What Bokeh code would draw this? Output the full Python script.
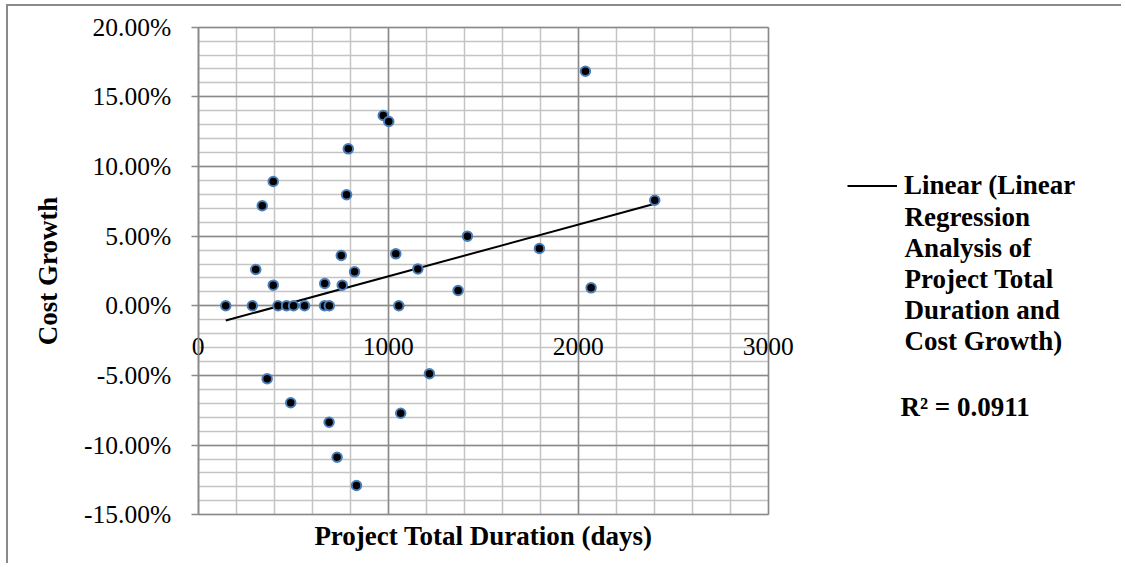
from bokeh.plotting import figure
from bokeh.models import (Range1d, NumeralTickFormatter, LinearAxis, FixedTicker,
                          Legend, LegendItem, Label, Grid)
from bokeh.embed import file_html
from bokeh.resources import INLINE

# ---- data ----
duration_days = [145, 285, 420, 465, 502, 560, 665, 690, 1056,
                 303, 337, 395, 395, 363, 487, 666, 689, 731,
                 753, 758, 781, 790, 823, 833, 974, 1003, 1040,
                 1066, 1156, 1217, 1368, 1417, 1796, 2038, 2068, 2403]
cost_growth = [0.0, 0.0, 0.0, 0.0, 0.0, 0.0, 0.0, 0.0, 0.0,
               0.0261, 0.0718, 0.0892, 0.0148, -0.0524, -0.0696, 0.0160, -0.0836, -0.1087,
               0.0361, 0.0148, 0.0797, 0.1127, 0.0244, -0.1290, 0.1366, 0.1323, 0.0373,
               -0.0771, 0.0265, -0.0488, 0.0110, 0.0500, 0.0411, 0.1684, 0.0129, 0.0758]
trend_x = [145, 2403]
trend_y = [-0.0106, 0.0732]
x_major_ticks = [0, 1000, 2000, 3000]
x_minor_ticks = [200 * i for i in range(16)]
y_major_ticks = [-0.15, -0.10, -0.05, 0.0, 0.05, 0.10, 0.15, 0.20]
y_minor_ticks = [round(-0.15 + 0.01 * i, 2) for i in range(36)]
legend_first = "Linear (Linear"
legend_rest = "Regression\nAnalysis of\nProject Total\nDuration and\nCost Growth)"
r2_text = "R\u00b2 = 0.0911"
x_title = "Project Total Duration (days)"
y_title = "Cost Growth"

FONT = "Liberation Serif"
MAJOR = "#8a8a8a"
MINOR = "#c4c4c4"
X_BOUNDS = (0, 3000)
Y_BOUNDS = (-0.15, 0.20)

# frame covers the whole canvas; plot area is bounded by grids/axes
p = figure(width=1115, height=559, output_backend="svg", toolbar_location=None,
           x_axis_type=None, y_axis_type=None,
           x_range=Range1d(-998.4, 4870.0), y_range=Range1d(-0.18643, 0.21486),
           min_border_left=0, min_border_right=0, min_border_top=0, min_border_bottom=0)
p.margin = (4, 0, 0, 6)
p.styles = {"border-top": "2px solid #8a8a8a", "border-left": "2px solid #8a8a8a"}
p.outline_line_color = None

# grids: minor first, then major on top
for dim, ticks, bnds, cb in ((0, x_minor_ticks, X_BOUNDS, Y_BOUNDS),
                             (1, y_minor_ticks, Y_BOUNDS, X_BOUNDS)):
    p.add_layout(Grid(dimension=dim, ticker=FixedTicker(ticks=ticks), bounds=bnds,
                      cross_bounds=cb, grid_line_color=MINOR, grid_line_width=1.5))
for dim, ticks, bnds, cb in ((0, x_major_ticks, X_BOUNDS, Y_BOUNDS),
                             (1, y_major_ticks, Y_BOUNDS, X_BOUNDS)):
    p.add_layout(Grid(dimension=dim, ticker=FixedTicker(ticks=ticks), bounds=bnds,
                      cross_bounds=cb, grid_line_color=MAJOR, grid_line_width=1.5))

# y axis at x = 0
yax = LinearAxis(fixed_location=0, bounds=Y_BOUNDS,
                 ticker=FixedTicker(ticks=y_major_ticks),
                 formatter=NumeralTickFormatter(format="0.00%"),
                 axis_line_color=MAJOR, axis_line_width=1.5,
                 major_tick_line_color=MAJOR, major_tick_line_width=1.5,
                 major_tick_out=7, major_tick_in=0, minor_tick_line_color=None,
                 major_label_standoff=20, major_label_text_font=FONT,
                 major_label_text_font_size="25.5px", major_label_text_color="black",
                 axis_label=y_title, axis_label_text_font=FONT,
                 axis_label_text_font_style="bold", axis_label_text_font_size="27px",
                 axis_label_text_color="black", axis_label_standoff=18)
p.add_layout(yax, "left")

# x axis labels along y = 0
xax = LinearAxis(fixed_location=0, bounds=X_BOUNDS,
                 ticker=FixedTicker(ticks=x_major_ticks),
                 axis_line_color=None, major_tick_line_color=None, minor_tick_line_color=None,
                 major_label_standoff=26, major_label_text_font=FONT,
                 major_label_text_font_size="25.5px", major_label_text_color="black")
p.add_layout(xax, "below")

# x title under the plot area
tax = LinearAxis(fixed_location=-0.15, bounds=X_BOUNDS, ticker=FixedTicker(ticks=[]),
                 axis_label=x_title, axis_line_color=None, major_tick_line_color=None,
                 minor_tick_line_color=None, major_label_text_font_size="0px",
                 axis_label_standoff=6, axis_label_text_font=FONT,
                 axis_label_text_font_style="bold", axis_label_text_font_size="27px",
                 axis_label_text_color="black")
p.add_layout(tax, "below")

trend = p.line(trend_x, trend_y, line_color="black", line_width=2)
p.scatter(duration_days, cost_growth, size=9.5, fill_color="black",
          line_color="#4a7ebb", line_width=2)

legend = Legend(items=[LegendItem(label=legend_first, renderers=[trend])],
                location=(839, 364), glyph_width=50, glyph_height=31, label_height=31,
                label_standoff=7, padding=0, margin=0, border_line_color=None,
                background_fill_alpha=0, label_text_font=FONT, label_text_font_style="bold",
                label_text_font_size="27px", label_text_color="black")
p.add_layout(legend)

p.add_layout(Label(x=3717.4, y=0.07451, text=legend_rest, text_baseline="top",
                   text_line_height=1.03, text_font=FONT, text_font_style="bold",
                   text_font_size="27px", text_color="black"))
p.add_layout(Label(x=3696.3, y=-0.07279, text=r2_text, text_baseline="middle",
                   text_font=FONT, text_font_style="bold", text_font_size="27px",
                   text_color="black"))

open("out.html", "w").write(file_html(p, INLINE))
